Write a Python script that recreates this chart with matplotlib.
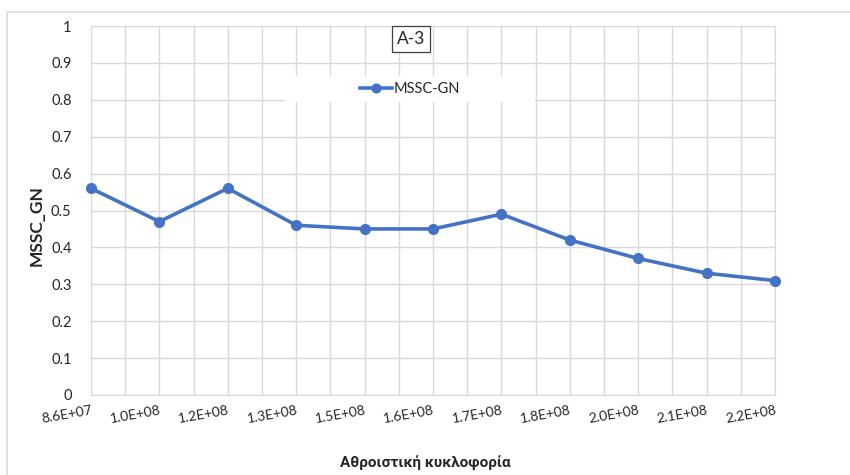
import matplotlib
matplotlib.use("Agg")
import matplotlib.pyplot as plt
from matplotlib.patches import Rectangle

plt.rcParams['font.family'] = ['Lato', 'Open Sans', 'DejaVu Sans']

# Cumulative traffic categories and MSSC-GN values
traffic_labels = ["8.6E+07", "1.0E+08", "1.2E+08", "1.3E+08", "1.5E+08", "1.6E+08",
                  "1.7E+08", "1.8E+08", "2.0E+08", "2.1E+08", "2.2E+08"]
mssc_gn = [0.56, 0.47, 0.56, 0.46, 0.45, 0.45, 0.49, 0.42, 0.37, 0.33, 0.31]
y_ticks = [0, 0.1, 0.2, 0.3, 0.4, 0.5, 0.6, 0.7, 0.8, 0.9, 1]

fig = plt.figure(figsize=(8.5, 4.75), dpi=100)
fig.patch.set_facecolor("white")

# chart area frame
fig.patches.append(Rectangle((7 / 850, -0.1), 1.0, 1 - 12 / 475 + 0.1,
                             transform=fig.transFigure, fill=False,
                             edgecolor="#dcdcdc", linewidth=1.2))

ax = fig.add_axes([91 / 850, 1 - 395 / 475, (775 - 91) / 850, (395 - 26) / 475])
x = list(range(len(traffic_labels)))

ax.plot(x, mssc_gn, color="#4472C4", linewidth=2.6, marker="o", markersize=7,
        label="MSSC-GN", zorder=3, clip_on=False)

ax.set_xlim(0, len(traffic_labels) - 1)
ax.set_ylim(0, 1)
ax.set_yticks(y_ticks)
ax.set_yticklabels([f"{v:g}" for v in y_ticks], fontsize=10.5, color="#262626")
ax.set_xticks(x)
ax.set_xticks([i + 0.5 for i in x[:-1]], minor=True)
ax.set_xticklabels(traffic_labels, fontsize=10, rotation=10, color="#262626",
                   ha="right", va="top", rotation_mode="anchor")
ax.tick_params(axis="both", which="both", length=0)
ax.tick_params(axis="y", pad=14)
ax.tick_params(axis="x", pad=7)

ax.grid(True, which="major", color="#d9d9d9", linewidth=1)
ax.grid(True, which="minor", axis="x", color="#d9d9d9", linewidth=1)
ax.set_axisbelow(True)
for s in ax.spines.values():
    s.set_visible(False)
ax.spines["right"].set_visible(True)
ax.spines["right"].set_color("#d9d9d9")
ax.spines["bottom"].set_visible(True)
ax.spines["bottom"].set_color("#d9d9d9")

ax.set_ylabel("MSSC_GN", fontsize=12.5, fontweight="bold", color="#262626")
ax.yaxis.set_label_coords(-0.068, 0.46)
fig.text(425 / 850, 1 - 463 / 475, "Αθροιστική κυκλοφορία", fontsize=11,
         fontweight="bold", family=["Roboto", "Open Sans", "DejaVu Sans"],
         color="#262626", ha="center", va="center")

# title box
ax.text(411 / 850, 1 - 39 / 475, "A-3", transform=fig.transFigure, fontsize=12.5,
        ha="center", va="center", color="#262626",
        bbox=dict(boxstyle="square,pad=0.3", facecolor="white", edgecolor="#404040",
                  linewidth=0.9), zorder=5)

# legend on a white band over the grid
ax.add_patch(Rectangle((285 / 850, 1 - 102 / 475), 250 / 850, 26 / 475,
                       transform=fig.transFigure, facecolor="white",
                       edgecolor="none", zorder=2.5, clip_on=False))
leg = ax.legend(loc="center", bbox_to_anchor=(410 / 850, 1 - 89 / 475),
                bbox_transform=fig.transFigure, frameon=False, fontsize=10.5,
                handlelength=2.2, handletextpad=0.1, markerscale=0.9)
leg.set_zorder(6)
for t in leg.get_texts():
    t.set_color("#262626")

fig.savefig("out.png", dpi=100, facecolor="white")
